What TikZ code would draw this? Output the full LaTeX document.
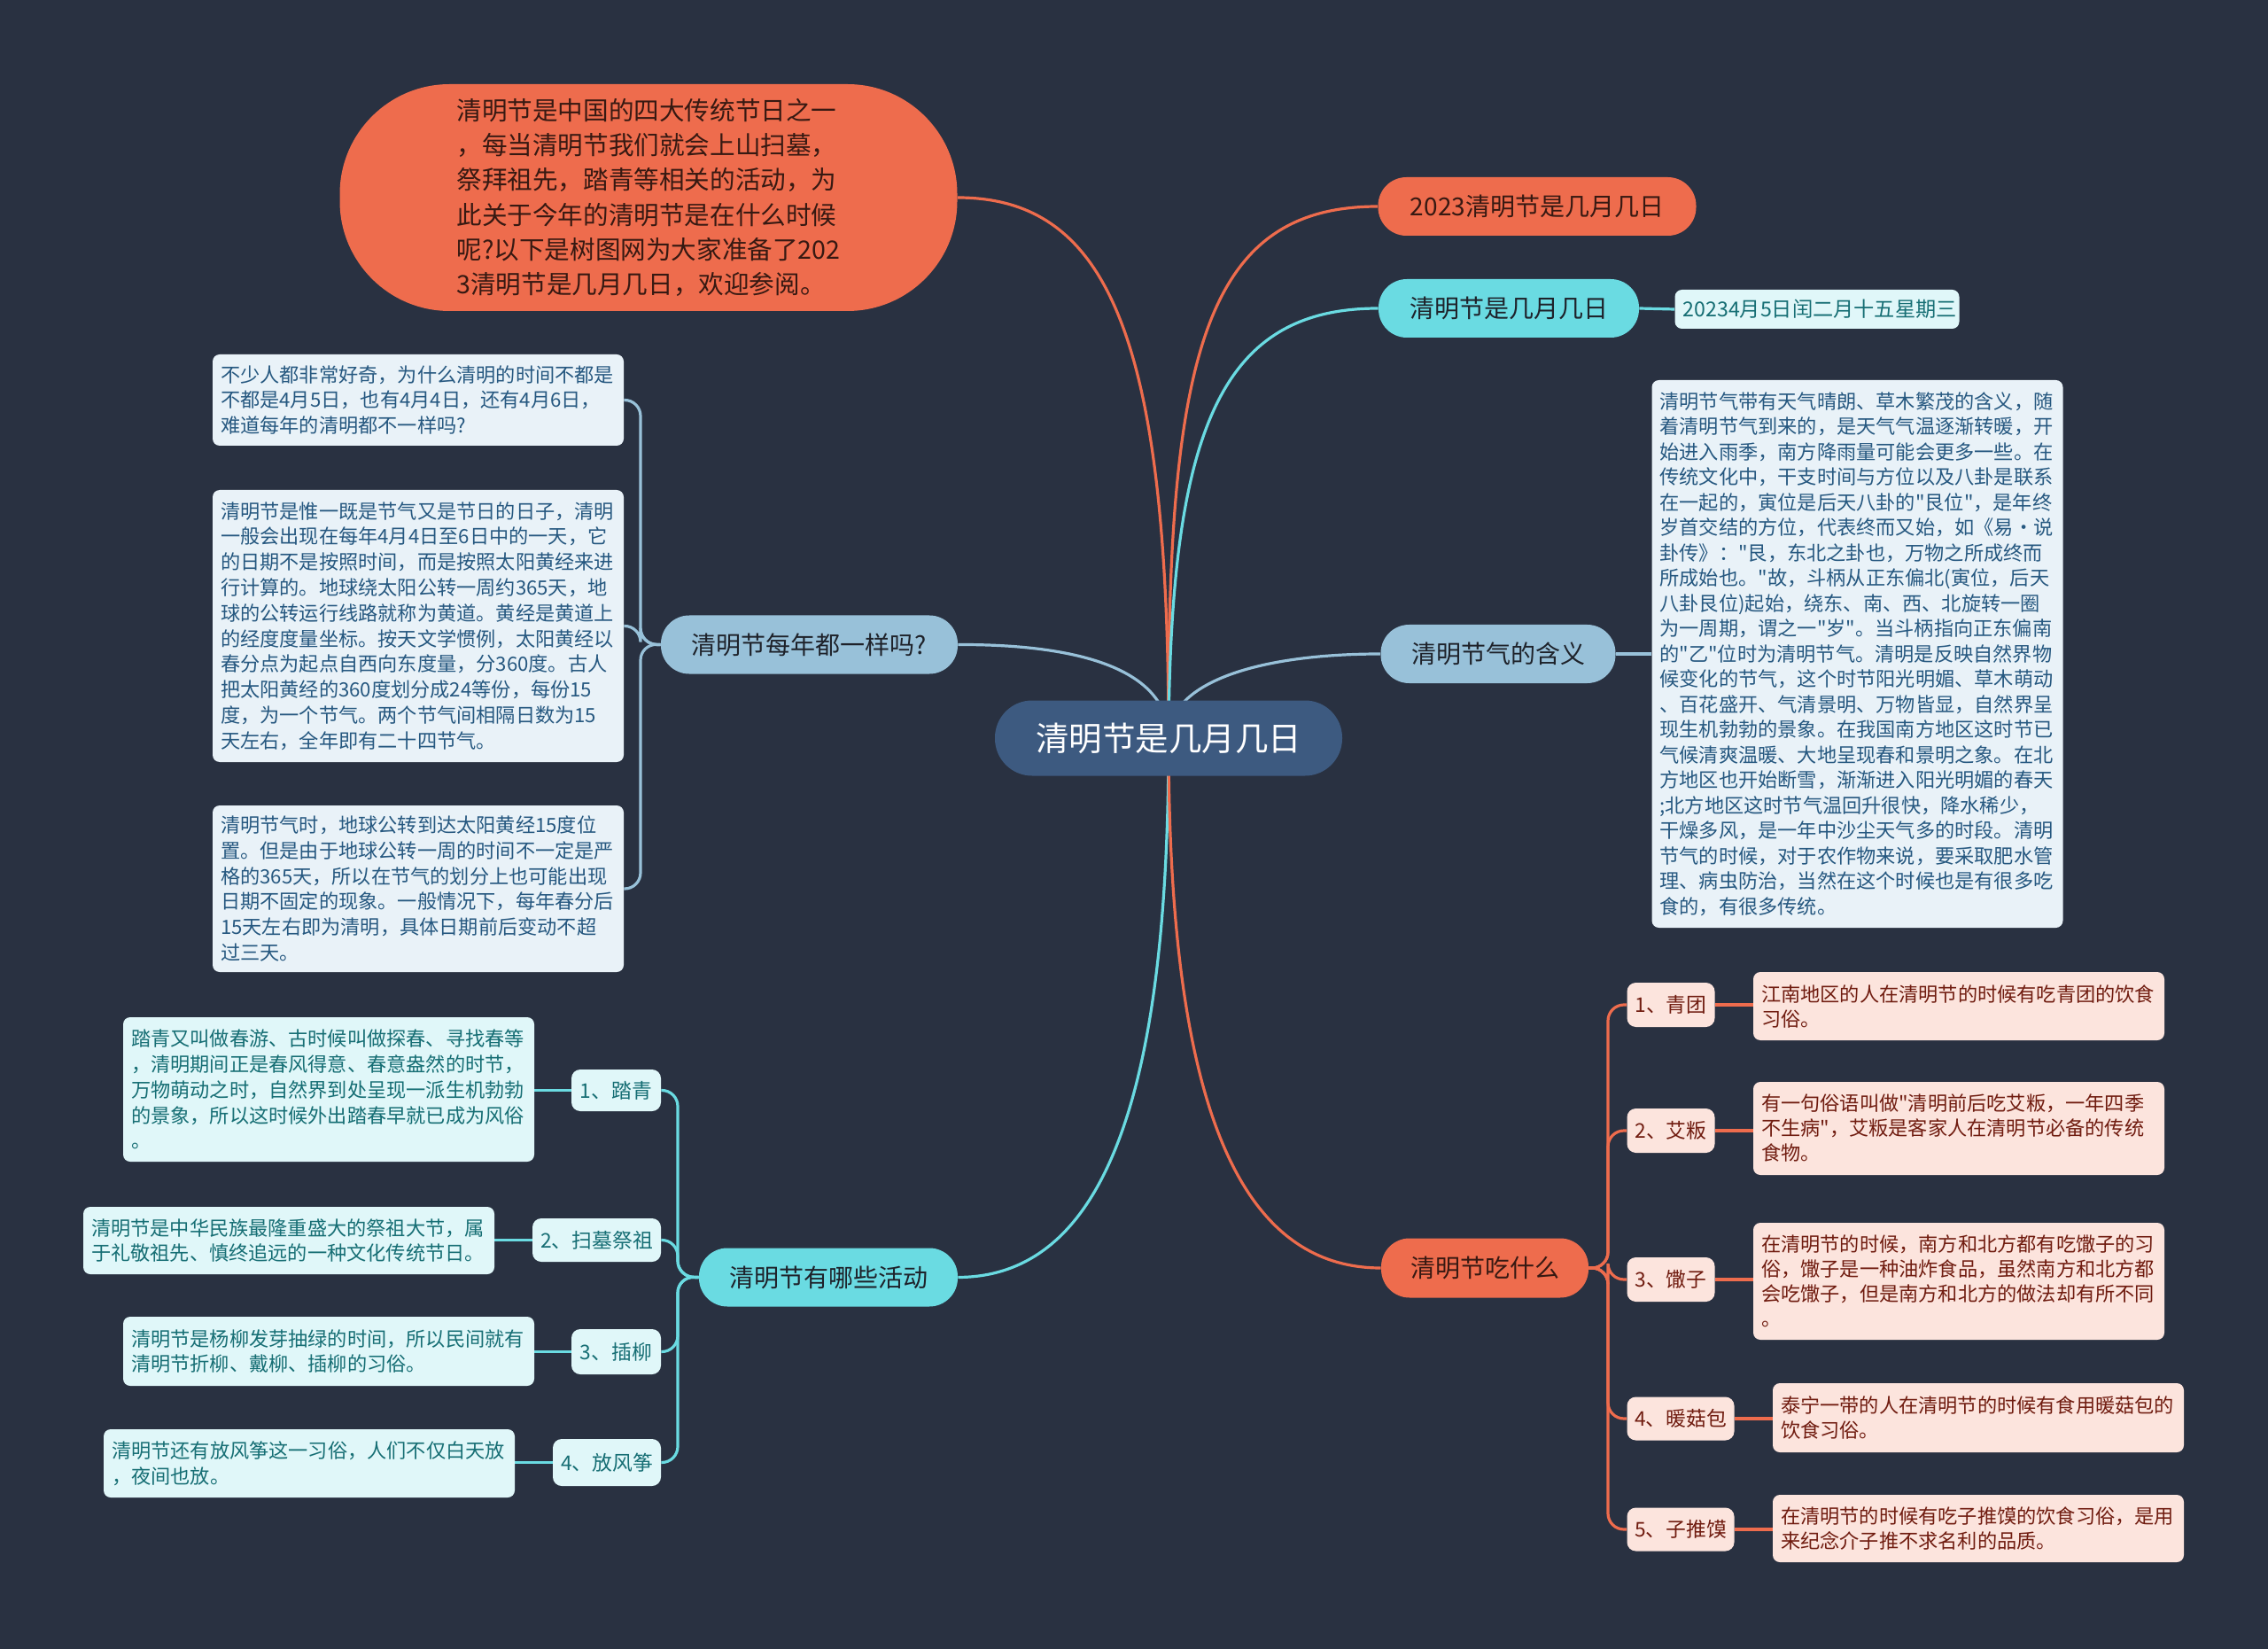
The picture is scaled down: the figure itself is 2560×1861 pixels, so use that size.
\documentclass[tikz,border=0pt]{standalone}
\usepackage{fontspec}
\setmainfont{Noto Sans CJK SC}
\newfontfamily\cjk{Noto Sans CJK SC}
\pgfdeclarelayer{bg}
\pgfsetlayers{bg,main}
\definecolor{bgc}{RGB}{41,49,65}
\definecolor{corange}{RGB}{238,108,77}
\definecolor{ccyan}{RGB}{106,219,226}
\definecolor{clblue}{RGB}{152,193,217}
\definecolor{cblue}{RGB}{61,90,128}
\definecolor{otext}{RGB}{55,25,18}
\definecolor{btext}{RGB}{30,34,42}
\definecolor{bleaffill}{RGB}{233,242,248}
\definecolor{bleaftext}{RGB}{38,88,128}
\definecolor{cleaffill}{RGB}{224,247,249}
\definecolor{cleaftext}{RGB}{22,110,116}
\definecolor{pleaffill}{RGB}{252,228,221}
\definecolor{pleaftext}{RGB}{112,28,16}
\tikzset{
  every node/.style={inner sep=0pt},
  centernode/.style={fill=cblue, text=white, rounded corners=21pt, minimum width=196pt, minimum height=42.5pt, font=\cjk\fontsize{18.75pt}{22pt}\selectfont},
  branch/.style={rounded corners=16pt, minimum height=33pt, font=\cjk\fontsize{14pt}{17pt}\selectfont},
  orangeB/.style={branch, fill=corange, text=otext},
  cyanB/.style={branch, fill=ccyan, text=btext},
  lblueB/.style={branch, fill=clblue, text=btext},
  leafbase/.style={rounded corners=4pt, align=left, inner xsep=4.5pt, text width=223pt, font=\cjk\fontsize{11.1pt}{14.4pt}\selectfont},
  bleaf/.style={leafbase, fill=bleaffill, text=bleaftext},
  cleaf/.style={leafbase, fill=cleaffill, text=cleaftext},
  pleaf/.style={leafbase, fill=pleaffill, text=pleaftext},
  itembase/.style={rounded corners=5pt, font=\cjk\fontsize{11.4pt}{14pt}\selectfont},
  citem/.style={itembase, fill=cleaffill, text=cleaftext},
  pitem/.style={itembase, fill=pleaffill, text=pleaftext},
  conn/.style={line width=1.6pt},
}
\begin{document}
\cjk
\begin{tikzpicture}[x=0.5pt,y=-0.5pt]
\begin{pgfonlayer}{bg}
\fill[bgc] (0,0) rectangle (2560,1861);
\end{pgfonlayer}

% center
\node[centernode] (ctr) at (1319,833) {清明节是几月几日};

% top-left intro
\node[fill=corange, text=otext, rounded corners=62pt, minimum width=348.5pt, minimum height=128pt, align=left,
      font=\cjk\fontsize{14.3pt}{19.6pt}\selectfont] (intro) at (732,223)
{清明节是中国的四大传统节日之一\\，每当清明节我们就会上山扫墓，\\祭拜祖先，踏青等相关的活动，为\\此关于今年的清明节是在什么时候\\呢?以下是树图网为大家准备了202\\3清明节是几月几日，欢迎参阅。};

% right top branches
\node[orangeB, minimum width=179.5pt] (y2023) at (1735,233) {2023清明节是几月几日};
\node[cyanB, minimum width=147pt] (when) at (1703,348) {清明节是几月几日};
\node[cleaf, text width=151.5pt, minimum height=22pt, font=\cjk\fontsize{11.6pt}{14pt}\selectfont] (date) at (2051,349) {20234月5日闰二月十五星期三};

% meaning
\node[lblueB, minimum width=132.5pt] (mean) at (1691,738) {清明节气的含义};
\node[bleaf, minimum height=309pt, font=\cjk\fontsize{11.1pt}{14.25pt}\selectfont] (meanleaf) at (2096.5,738)
{清明节气带有天气晴朗、草木繁茂的含义，随\\着清明节气到来的，是天气气温逐渐转暖，开\\始进入雨季，南方降雨量可能会更多一些。在\\传统文化中，干支时间与方位以及八卦是联系\\在一起的，寅位是后天八卦的"艮位"，是年终\\岁首交结的方位，代表终而又始，如《易·说\\卦传》："艮，东北之卦也，万物之所成终而\\所成始也。"故，斗柄从正东偏北(寅位，后天\\八卦艮位)起始，绕东、南、西、北旋转一圈\\为一周期，谓之一"岁"。当斗柄指向正东偏南\\的"乙"位时为清明节气。清明是反映自然界物\\候变化的节气，这个时节阳光明媚、草木萌动\\、百花盛开、气清景明、万物皆显，自然界呈\\现生机勃勃的景象。在我国南方地区这时节已\\气候清爽温暖、大地呈现春和景明之象。在北\\方地区也开始断雪，渐渐进入阳光明媚的春天\\;北方地区这时节气温回升很快，降水稀少，\\干燥多风，是一年中沙尘天气多的时段。清明\\节气的时候，对于农作物来说，要采取肥水管\\理、病虫防治，当然在这个时候也是有很多吃\\食的，有很多传统。};

% every year same?
\node[lblueB, minimum width=167.5pt] (year) at (913.5,727.5) {清明节每年都一样吗?};
\node[bleaf, minimum height=51.5pt] (yl1) at (472,451.5)
{不少人都非常好奇，为什么清明的时间不都是\\不都是4月5日，也有4月4日，还有4月6日，\\难道每年的清明都不一样吗?};
\node[bleaf, minimum height=153.5pt] (yl2) at (472,706.5)
{清明节是惟一既是节气又是节日的日子，清明\\一般会出现在每年4月4日至6日中的一天，它\\的日期不是按照时间，而是按照太阳黄经来进\\行计算的。地球绕太阳公转一周约365天，地\\球的公转运行线路就称为黄道。黄经是黄道上\\的经度度量坐标。按天文学惯例，太阳黄经以\\春分点为起点自西向东度量，分360度。古人\\把太阳黄经的360度划分成24等份，每份15\\度，为一个节气。两个节气间相隔日数为15\\天左右，全年即有二十四节气。};
\node[bleaf, minimum height=94pt] (yl3) at (472,1003)
{清明节气时，地球公转到达太阳黄经15度位\\置。但是由于地球公转一周的时间不一定是严\\格的365天，所以在节气的划分上也可能出现\\日期不固定的现象。一般情况下，每年春分后\\15天左右即为清明，具体日期前后变动不超\\过三天。};

% activities
\node[cyanB, minimum width=146pt] (act) at (935,1441.5) {清明节有哪些活动};
\node[citem, minimum width=50.5pt, minimum height=23.5pt] (a1) at (695.5,1230.5) {1、踏青};
\node[citem, minimum width=72.5pt, minimum height=24.5pt] (a2) at (673.5,1399.5) {2、扫墓祭祖};
\node[citem, minimum width=50.5pt, minimum height=25.5pt] (a3) at (695.5,1525.5) {3、插柳};
\node[citem, minimum width=61pt, minimum height=26.5pt] (a4) at (685,1650.5) {4、放风筝};
\node[cleaf, minimum height=81.5pt] (al1) at (371,1229.5)
{踏青又叫做春游、古时候叫做探春、寻找春等\\，清明期间正是春风得意、春意盎然的时节，\\万物萌动之时，自然界到处呈现一派生机勃勃\\的景象，所以这时候外出踏春早就已成为风俗\\。};
\node[cleaf, minimum height=38pt] (al2) at (326,1400)
{清明节是中华民族最隆重盛大的祭祖大节，属\\于礼敬祖先、慎终追远的一种文化传统节日。};
\node[cleaf, minimum height=39pt] (al3) at (371,1525)
{清明节是杨柳发芽抽绿的时间，所以民间就有\\清明节折柳、戴柳、插柳的习俗。};
\node[cleaf, minimum height=38.5pt] (al4) at (349,1651.5)
{清明节还有放风筝这一习俗，人们不仅白天放\\，夜间也放。};

% food
\node[orangeB, minimum width=117pt, minimum height=33.5pt] (food) at (1676,1431) {清明节吃什么};
\node[pitem, minimum width=49.5pt, minimum height=25pt] (f1) at (1886,1134) {1、青团};
\node[pitem, minimum width=49.5pt, minimum height=25pt] (f2) at (1886,1276) {2、艾粄};
\node[pitem, minimum width=49.5pt, minimum height=25pt] (f3) at (1886,1444) {3、馓子};
\node[pitem, minimum width=60.5pt, minimum height=24.5pt] (f4) at (1897,1601) {4、暖菇包};
\node[pitem, minimum width=60.5pt, minimum height=24.5pt] (f5) at (1897,1726) {5、子推馍};
\node[pleaf, minimum height=38.5pt, font=\cjk\fontsize{11.1pt}{14pt}\selectfont] (fl1) at (2211,1135.5)
{江南地区的人在清明节的时候有吃青团的饮食\\习俗。};
\node[pleaf, minimum height=52.5pt, font=\cjk\fontsize{11.1pt}{14pt}\selectfont] (fl2) at (2211,1273.5)
{有一句俗语叫做"清明前后吃艾粄，一年四季\\不生病"，艾粄是客家人在清明节必备的传统\\食物。};
\node[pleaf, minimum height=66pt, font=\cjk\fontsize{11.1pt}{14pt}\selectfont] (fl3) at (2211,1446)
{在清明节的时候，南方和北方都有吃馓子的习\\俗，馓子是一种油炸食品，虽然南方和北方都\\会吃馓子，但是南方和北方的做法却有所不同\\。};
\node[pleaf, minimum height=39pt, font=\cjk\fontsize{11.1pt}{14pt}\selectfont] (fl4) at (2233,1600)
{泰宁一带的人在清明节的时候有食用暖菇包的\\饮食习俗。};
\node[pleaf, minimum height=38pt, font=\cjk\fontsize{11.1pt}{14pt}\selectfont] (fl5) at (2233,1725)
{在清明节的时候有吃子推馍的饮食习俗，是用\\来纪念介子推不求名利的品质。};

\begin{pgfonlayer}{bg}
% main connectors
\draw[conn, corange] (ctr.center) .. controls (1319,380) and (1250,223) .. (intro.east);
\draw[conn, corange] (ctr.center) .. controls (1317,400) and (1360,233) .. (y2023.west);
\draw[conn, ccyan] (ctr.center) .. controls (1321,480) and (1380,348) .. (when.west);
\draw[conn, clblue] (ctr.center) .. controls (1319,760) and (1230,727) .. (year.east);
\draw[conn, clblue] (ctr.center) .. controls (1319,770) and (1420,738) .. (mean.west);
\draw[conn, ccyan] (ctr.center) .. controls (1319,1200) and (1260,1441) .. (act.east);
\draw[conn, corange] (ctr.center) .. controls (1319,1200) and (1380,1431) .. (food.west);
% leaf connectors
\draw[conn, ccyan] (when.east) -- (date.west);
\draw[conn, clblue] (mean.east) -- (meanleaf.west);
\foreach \n in {yl1,yl2,yl3}
  \draw[conn, clblue, rounded corners=9pt] (year.west) -- (723,727) |- (\n.east);
\foreach \n in {a1,a2,a3,a4}
  \draw[conn, ccyan, rounded corners=9pt] (act.west) -- (765,1441) |- (\n.east);
\draw[conn, ccyan] (a1.west) -- (al1.east |- a1.west);
\draw[conn, ccyan] (a2.west) -- (al2.east |- a2.west);
\draw[conn, ccyan] (a3.west) -- (al3.east |- a3.west);
\draw[conn, ccyan] (a4.west) -- (al4.east |- a4.west);
\foreach \n in {f1,f2,f3,f4,f5}
  \draw[conn, corange, rounded corners=9pt] (food.east) -- (1815,1431) |- (\n.west);
\draw[conn, corange] (f1.east) -- (fl1.west |- f1.east);
\draw[conn, corange] (f2.east) -- (fl2.west |- f2.east);
\draw[conn, corange] (f3.east) -- (fl3.west |- f3.east);
\draw[conn, corange] (f4.east) -- (fl4.west |- f4.east);
\draw[conn, corange] (f5.east) -- (fl5.west |- f5.east);
\end{pgfonlayer}
\end{tikzpicture}
\end{document}
